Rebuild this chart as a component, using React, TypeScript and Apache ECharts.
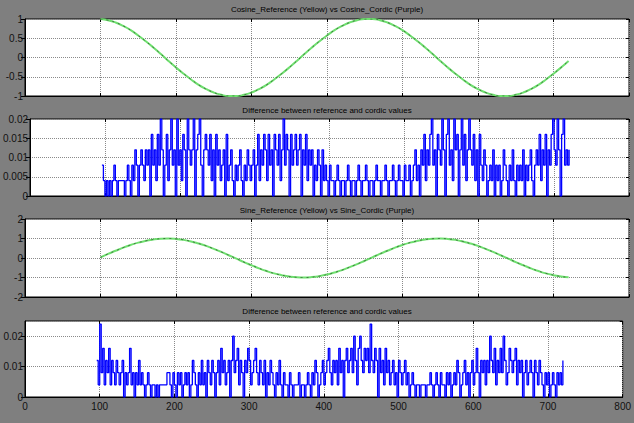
import React, { useEffect, useRef } from "react";
import * as echarts from "echarts";

const titles = [
  "Cosine_Reference (Yellow) vs Cosine_Cordic (Purple)",
  "Difference between reference and cordic values",
  "Sine_Reference (Yellow) vs Sine_Cordic (Purple)",
  "Difference between reference and cordic values",
];

const xMin = 0;
const xMax = 800;
const xInterval = 100;

const yMins = [-1, 0, -2, 0];
const yMaxs = [1, 0.02, 2, 0.025];
const yIntervals = [0.5, 0.005, 1, 0.01];

// Reference curves sampled every 10 units starting at x = 100
const curveStart = 100;
const curveStep = 10;
const cosReference = [
  1.0, 0.97, 0.91, 0.82, 0.71, 0.57, 0.42, 0.26, 0.09, -0.09,
  -0.26, -0.42, -0.57, -0.71, -0.82, -0.91, -0.97, -1.0, -1.0, -0.97,
  -0.91, -0.82, -0.71, -0.57, -0.42, -0.26, -0.09, 0.09, 0.26, 0.42,
  0.57, 0.71, 0.82, 0.91, 0.97, 1.0, 1.0, 0.97, 0.91, 0.82,
  0.71, 0.57, 0.42, 0.26, 0.09, -0.09, -0.26, -0.42, -0.57, -0.71,
  -0.82, -0.91, -0.97, -1.0, -1.0, -0.97, -0.91, -0.82, -0.71, -0.57,
  -0.42, -0.26, -0.09,
];
const sinReference = [
  0.03, 0.21, 0.37, 0.53, 0.67, 0.79, 0.88, 0.95, 0.99, 1.0,
  0.98, 0.93, 0.85, 0.74, 0.62, 0.47, 0.31, 0.14, -0.03, -0.21,
  -0.37, -0.53, -0.67, -0.79, -0.88, -0.95, -0.99, -1.0, -0.98, -0.93,
  -0.85, -0.74, -0.62, -0.47, -0.31, -0.14, 0.03, 0.21, 0.37, 0.53,
  0.67, 0.79, 0.88, 0.95, 0.99, 1.0, 0.98, 0.93, 0.85, 0.74,
  0.62, 0.47, 0.31, 0.14, -0.03, -0.21, -0.37, -0.53, -0.67, -0.79,
  -0.88, -0.95, -0.99,
];

// Difference values sampled every 2 units starting at x = 96
const diffStart = 96;
const diffStep = 2;
const cosDiff = [
  0.008, 0.004, 0, 0.004, 0, 0.004, 0, 0.004, 0.008, 0.004,
  0, 0.004, 0.004, 0.004, 0.004, 0, 0.004, 0.008, 0.004, 0,
  0.008, 0.004, 0.012, 0.008, 0, 0.008, 0.012, 0.008, 0.004, 0.012,
  0.008, 0.012, 0, 0.016, 0.008, 0.012, 0.004, 0.016, 0.008, 0.02,
  0.012, 0, 0.008, 0.016, 0.004, 0.012, 0.02, 0.008, 0.012, 0,
  0.02, 0.008, 0.012, 0.004, 0.016, 0.012, 0, 0.02, 0.012, 0.008,
  0.012, 0.02, 0, 0.012, 0.016, 0.02, 0.008, 0, 0.012, 0.016,
  0.012, 0.008, 0.016, 0.004, 0.012, 0, 0.016, 0.008, 0.012, 0.004,
  0.008, 0.012, 0, 0.016, 0.004, 0.008, 0.012, 0.004, 0, 0.008,
  0.004, 0.008, 0.012, 0.004, 0, 0.008, 0.004, 0.012, 0.008, 0.004,
  0.008, 0.012, 0, 0.008, 0.016, 0.004, 0.012, 0.008, 0.016, 0.012,
  0.004, 0.016, 0.008, 0.012, 0, 0.016, 0.012, 0.008, 0.016, 0.004,
  0.012, 0.02, 0.008, 0.016, 0.012, 0, 0.016, 0.008, 0.012, 0.016,
  0.008, 0.012, 0.016, 0, 0.012, 0.008, 0.016, 0.004, 0.012, 0.008,
  0.012, 0, 0.008, 0.004, 0.012, 0.008, 0, 0.012, 0.004, 0.008,
  0.004, 0, 0.008, 0.004, 0.004, 0, 0.004, 0.008, 0.004, 0,
  0.004, 0.004, 0, 0.004, 0.008, 0.004, 0, 0.004, 0.004, 0,
  0.004, 0.008, 0.004, 0, 0.004, 0.004, 0.008, 0.004, 0, 0.004,
  0.004, 0, 0.004, 0.008, 0.004, 0.004, 0, 0.004, 0.004, 0.008,
  0.004, 0, 0.004, 0.004, 0.008, 0.004, 0, 0.004, 0.008, 0.004,
  0.004, 0, 0.008, 0.004, 0.004, 0.008, 0, 0.004, 0.008, 0.012,
  0.004, 0.008, 0, 0.012, 0.008, 0.016, 0.004, 0.012, 0.008, 0.016,
  0.02, 0.008, 0.012, 0, 0.016, 0.012, 0.008, 0.02, 0.012, 0,
  0.016, 0.02, 0.008, 0.012, 0.004, 0.02, 0.012, 0.016, 0, 0.012,
  0.02, 0.008, 0.016, 0.004, 0.012, 0.02, 0.012, 0.008, 0.016, 0.004,
  0.012, 0, 0.016, 0.008, 0.004, 0.012, 0.008, 0, 0.004, 0.008,
  0.004, 0.012, 0, 0.008, 0.004, 0.008, 0, 0.004, 0.012, 0.008,
  0.004, 0, 0.008, 0.004, 0.012, 0.004, 0, 0.008, 0.004, 0.008,
  0.004, 0.012, 0, 0.008, 0.004, 0.008, 0.012, 0.004, 0, 0.008,
  0.012, 0.008, 0.016, 0.004, 0.012, 0.008, 0.016, 0, 0.012, 0.008,
  0.016, 0.02, 0.012, 0.008, 0.02, 0.012, 0, 0.016, 0.02, 0.008,
  0.012, 0.008, 0.012,
];
const sinDiff = [
  0.012, 0.004, 0.024, 0.008, 0.016, 0.004, 0.012, 0.008, 0.016, 0.004,
  0.012, 0.008, 0.004, 0.012, 0.008, 0.004, 0.008, 0.012, 0, 0.008,
  0.004, 0.008, 0.016, 0.004, 0.008, 0, 0.008, 0.004, 0.012, 0.004,
  0.008, 0.004, 0, 0.004, 0.008, 0.004, 0, 0.004, 0.004, 0,
  0.004, 0, 0.004, 0.004, 0.004, 0.004, 0.004, 0.008, 0.008, 0.004,
  0, 0.008, 0.004, 0, 0.008, 0.004, 0.008, 0, 0.004, 0.008,
  0.004, 0.008, 0, 0.004, 0.012, 0.008, 0.004, 0, 0.008, 0.004,
  0.012, 0.004, 0.008, 0, 0.012, 0.008, 0.004, 0.012, 0.008, 0,
  0.008, 0.012, 0.004, 0.016, 0.008, 0.012, 0.004, 0.008, 0.012, 0,
  0.012, 0.02, 0.008, 0.012, 0.016, 0.004, 0.012, 0.008, 0, 0.012,
  0.008, 0.016, 0.012, 0.004, 0.008, 0.012, 0.016, 0.008, 0.004, 0.012,
  0.008, 0.004, 0.012, 0, 0.008, 0.004, 0.012, 0.008, 0.004, 0,
  0.008, 0.004, 0.012, 0.004, 0, 0.008, 0.004, 0.004, 0, 0.008,
  0.004, 0, 0.004, 0.004, 0.004, 0.008, 0, 0.004, 0.004, 0,
  0.004, 0.008, 0.004, 0, 0.008, 0.004, 0.012, 0.008, 0, 0.004,
  0.008, 0.012, 0.004, 0.008, 0.012, 0.016, 0.008, 0.004, 0.012, 0.008,
  0.012, 0.004, 0.016, 0.008, 0.012, 0, 0.012, 0.016, 0.008, 0.012,
  0.016, 0.008, 0.02, 0.012, 0.004, 0.016, 0.02, 0.012, 0.008, 0.016,
  0.012, 0.016, 0.008, 0.024, 0.012, 0.008, 0.016, 0.012, 0, 0.016,
  0.008, 0.012, 0.004, 0.016, 0.008, 0.012, 0.004, 0.008, 0.012, 0.004,
  0.008, 0, 0.012, 0.008, 0.004, 0.008, 0.012, 0.004, 0.008, 0,
  0.004, 0.008, 0.004, 0, 0.004, 0.004, 0, 0.004, 0.004, 0.004,
  0, 0.004, 0.004, 0.008, 0.004, 0, 0.004, 0.008, 0.004, 0,
  0.008, 0.004, 0.004, 0, 0.008, 0.004, 0.008, 0, 0.004, 0.008,
  0.004, 0.012, 0.008, 0, 0.004, 0.008, 0.012, 0.004, 0.008, 0,
  0.008, 0.012, 0.004, 0.008, 0.016, 0.008, 0, 0.012, 0.008, 0.012,
  0.004, 0.012, 0.008, 0.02, 0.012, 0.008, 0.016, 0.004, 0.012, 0.008,
  0.016, 0.008, 0.02, 0.012, 0.004, 0.008, 0.016, 0.012, 0.008, 0.012,
  0.016, 0.004, 0.012, 0.008, 0.012, 0, 0.008, 0.012, 0.004, 0.008,
  0.012, 0.008, 0, 0.012, 0.008, 0.004, 0.012, 0.008, 0.004, 0,
  0.008, 0.004, 0.008, 0, 0.004, 0.008, 0.004, 0, 0.008, 0.004,
  0.008, 0.004, 0.012,
];

const gridTops = [19, 119, 219, 321];
const gridHeights = [77, 77, 78, 76];
const titleTops = [5, 106, 206, 307];

const FONT = "'Liberation Sans', Arial, sans-serif";

function toPairs(values: number[], start: number, step: number) {
  return values.map((v, i) => [start + i * step, v]);
}

export default function App() {
  const ref = useRef<HTMLDivElement>(null);

  useEffect(() => {
    document.body.style.margin = "0";
    if (!ref.current) return;
    const chart = echarts.init(ref.current, null, { renderer: "svg" });

    const grids = gridTops.map((top, i) => ({
      left: 25,
      right: 5,
      top,
      height: gridHeights[i],
      show: true,
      backgroundColor: "#ffffff",
      borderColor: "#000000",
      borderWidth: 1,
    }));

    const xAxes: any[] = [];
    const yAxes: any[] = [];
    for (let i = 0; i < 4; i++) {
      xAxes.push({
        gridIndex: i,
        type: "value",
        position: "bottom",
        min: xMin,
        max: xMax,
        interval: xInterval,
        axisLine: { show: true, onZero: false, lineStyle: { color: "#000", width: 1 } },
        axisTick: { show: true, inside: true, length: 3, lineStyle: { color: "#000" } },
        axisLabel: {
          show: i === 3,
          color: "#111",
          fontSize: 10,
          fontFamily: FONT,
          margin: 4,
        },
        splitLine: { show: true, lineStyle: { color: "#8a8a8a", type: "dotted", width: 1 } },
      });
      xAxes.push({
        gridIndex: i,
        type: "value",
        position: "top",
        min: xMin,
        max: xMax,
        interval: xInterval,
        axisLine: { show: false, onZero: false },
        axisTick: { show: true, inside: true, length: 3, lineStyle: { color: "#000" } },
        axisLabel: { show: false },
        splitLine: { show: false },
      });
      yAxes.push({
        gridIndex: i,
        type: "value",
        position: "left",
        min: yMins[i],
        max: yMaxs[i],
        interval: yIntervals[i],
        axisLine: { show: true, onZero: false, lineStyle: { color: "#000", width: 1 } },
        axisTick: { show: true, inside: false, length: 4, lineStyle: { color: "#000" } },
        axisLabel: {
          color: "#111",
          fontSize: 10,
          fontFamily: FONT,
          margin: 2,
          showMaxLabel: i !== 3,
        },
        splitLine: { show: true, lineStyle: { color: "#8a8a8a", type: "dotted", width: 1 } },
      });
      yAxes.push({
        gridIndex: i,
        type: "value",
        position: "right",
        min: yMins[i],
        max: yMaxs[i],
        interval: yIntervals[i],
        axisLine: { show: false, onZero: false },
        axisTick: { show: true, inside: true, length: 3, lineStyle: { color: "#000" } },
        axisLabel: { show: false },
        splitLine: { show: false },
      });
    }

    const curveSeries = (data: number[], gi: number) => [
      {
        type: "line",
        xAxisIndex: gi * 2,
        yAxisIndex: gi * 2,
        data: toPairs(data, curveStart, curveStep),
        smooth: true,
        showSymbol: false,
        lineStyle: { color: "#6fe06f", width: 2 },
        z: 3,
      },
      {
        type: "line",
        xAxisIndex: gi * 2,
        yAxisIndex: gi * 2,
        data: toPairs(data, curveStart, curveStep),
        smooth: true,
        showSymbol: false,
        lineStyle: { color: "#2b4a2b", width: 1, type: [2, 4], opacity: 0.7 },
        z: 4,
      },
    ];

    const diffSeries = (data: number[], gi: number) => ({
      type: "line",
      xAxisIndex: gi * 2,
      yAxisIndex: gi * 2,
      data: toPairs(data, diffStart, diffStep),
      step: "end",
      showSymbol: false,
      lineStyle: { color: "#0000ff", width: 1.3 },
      z: 3,
    });

    chart.setOption({
      animation: false,
      backgroundColor: "#7f7f7f",
      title: titles.map((t, i) => ({
        text: t,
        left: 327,
        top: titleTops[i],
        textAlign: "center",
        padding: 0,
        textStyle: { fontSize: 8, fontWeight: "normal", color: "#000", fontFamily: FONT },
      })),
      grid: grids,
      xAxis: xAxes,
      yAxis: yAxes,
      series: [
        ...curveSeries(cosReference, 0),
        diffSeries(cosDiff, 1),
        ...curveSeries(sinReference, 2),
        diffSeries(sinDiff, 3),
      ],
    });

    return () => chart.dispose();
  }, []);

  return (
    <div
      ref={ref}
      style={{ position: "fixed", left: 0, top: 0, width: 634, height: 423 }}
    />
  );
}
